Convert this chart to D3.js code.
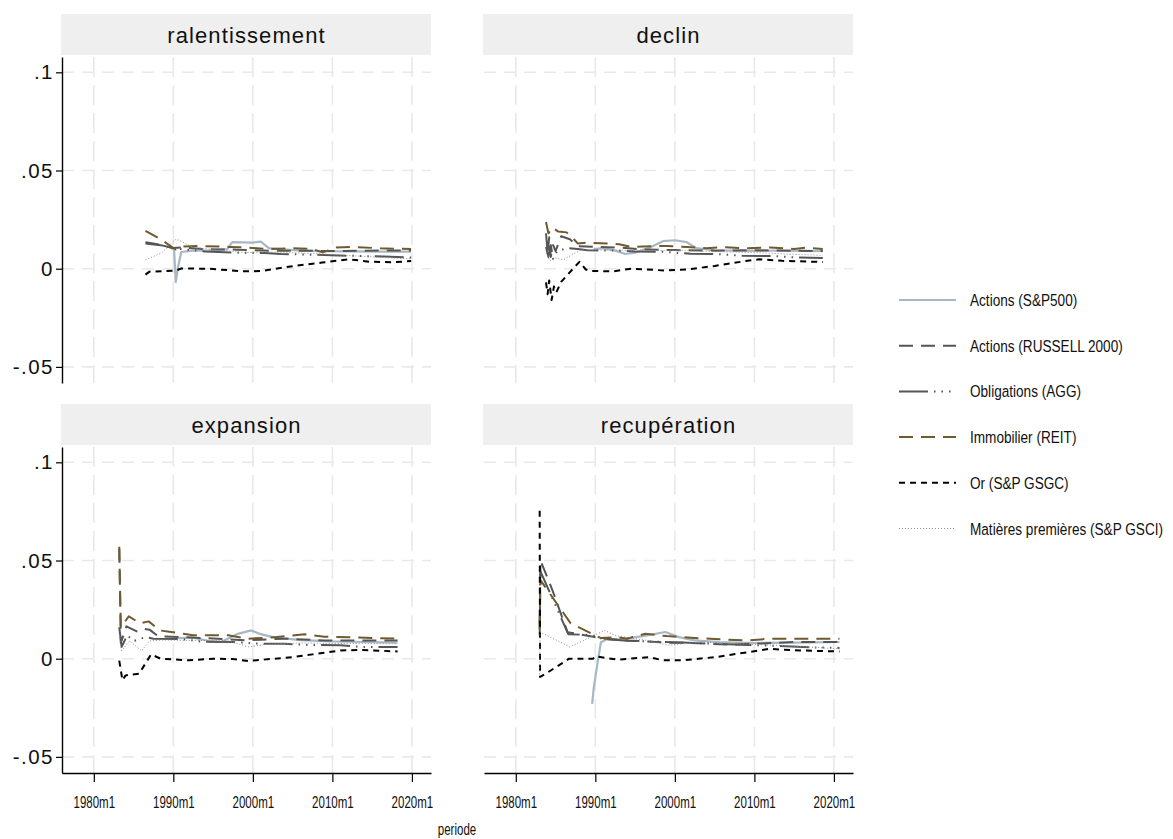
<!DOCTYPE html>
<html>
<head>
<meta charset="utf-8">
<script src="https://cdn.jsdelivr.net/npm/d3@7"></script>
<style>
  html, body { margin: 0; padding: 0; background: #ffffff; }
  text { font-family: "Liberation Sans", Arial, sans-serif; }
</style>
</head>
<body>
<svg id="chart" width="1173" height="839"></svg>
<script>
// Panels (business-cycle phases) and asset series
const regimes = ["ralentissement", "declin", "expansion", "recupération"];
const seriesNames = [
  "Actions (S&P500)",
  "Actions (RUSSELL 2000)",
  "Obligations (AGG)",
  "Immobilier (REIT)",
  "Or (S&P GSGC)",
  "Matières premières (S&P GSCI)"
];
const xTicks = [1980, 1990, 2000, 2010, 2020];
const xTickLabels = ["1980m1", "1990m1", "2000m1", "2010m1", "2020m1"];
const yTicks = [0.1, 0.05, 0, -0.05];
const yTickLabels = [".1", ".05", "0", "-.05"];

// Average monthly return per phase, [period (decimal year), value]
const ralentissement_sp500 = [[1989.6,0.011],[1990.1,0.0095],[1990.3,-0.0068],[1990.6,0.001],[1991.0,0.0085],[1992.5,0.0092],[1995.0,0.0093],[1996.8,0.0100],[1997.4,0.0135],[2000.0,0.0133],[2001.0,0.0138],[2002.0,0.0105],[2005.0,0.0095],[2008.0,0.0090],[2012.0,0.0088],[2016.0,0.0087],[2019.9,0.0087]];
const ralentissement_russell = [[1986.5,0.0135],[1988.0,0.0125],[1990.0,0.0105],[1991.0,0.0108],[1994.0,0.0100],[1998.0,0.0097],[2002.0,0.0092],[2006.0,0.0092],[2010.0,0.0090],[2014.0,0.0092],[2019.9,0.0093]];
const ralentissement_agg = [[1986.5,0.0128],[1988.4,0.012],[1990.3,0.0102],[1994.0,0.0088],[1998.0,0.0082],[2001.5,0.0080],[2003.5,0.0075],[2009.0,0.0070],[2012.0,0.0066],[2016.5,0.0062],[2019.9,0.0057]];
const ralentissement_reit = [[1986.5,0.0193],[1988.4,0.015],[1990.3,0.0098],[1991.0,0.0113],[1993.0,0.0116],[1997.0,0.0111],[1999.0,0.0108],[2002.0,0.0100],[2005.0,0.0104],[2007.5,0.0100],[2008.8,0.0083],[2010.5,0.0108],[2012.5,0.0111],[2016.0,0.0104],[2019.9,0.0100]];
const ralentissement_or = [[1986.5,-0.0030],[1987.0,-0.0015],[1990.3,-0.0010],[1991.0,0.0001],[1994.5,0.0000],[1998.6,-0.0013],[2001.1,-0.0012],[2005.3,0.0015],[2008.7,0.0031],[2012.1,0.0048],[2014.6,0.0036],[2017.6,0.0033],[2019.9,0.0039]];
const ralentissement_gsci = [[1986.5,0.0045],[1988.5,0.008],[1990.3,0.0150],[1991.0,0.0140],[1992.5,0.0108],[1996.5,0.0092],[1999.0,0.0082],[2002.5,0.0085],[2006.0,0.0080],[2010.0,0.0072],[2015.0,0.0060],[2019.9,0.0050]];

const declin_sp500 = [[1989.8,0.0100],[1991.0,0.0105],[1992.5,0.0092],[1993.8,0.0075],[1995.0,0.0082],[1997.0,0.0110],[1998.5,0.0140],[2000.0,0.0145],[2001.5,0.0135],[2002.7,0.0105],[2005.0,0.0094],[2009.0,0.0091],[2013.0,0.0092],[2018.6,0.0090]];
const declin_russell = [[1983.8,0.018],[1984.0,0.008],[1984.2,0.016],[1984.4,0.006],[1984.7,0.012],[1985.0,0.009],[1985.7,0.0165],[1986.8,0.015],[1987.8,0.0115],[1990.0,0.0111],[1993.0,0.0108],[1996.0,0.0098],[2000.0,0.0095],[2005.0,0.0092],[2010.0,0.0094],[2015.0,0.0091],[2018.6,0.0090]];
const declin_agg = [[1983.8,0.011],[1984.1,0.006],[1984.4,0.012],[1984.7,0.005],[1985.2,0.009],[1986.5,0.0105],[1987.8,0.0100],[1989.0,0.0094],[1993.0,0.0092],[1995.0,0.0088],[1998.5,0.0086],[2002.0,0.0076],[2005.5,0.0074],[2008.5,0.0066],[2012.5,0.0064],[2015.5,0.0057],[2018.6,0.0055]];
const declin_reit = [[1983.8,0.0238],[1984.1,0.018],[1984.6,0.021],[1985.3,0.019],[1986.4,0.0185],[1987.2,0.0155],[1987.8,0.0128],[1989.0,0.0133],[1993.0,0.0125],[1994.5,0.0111],[1996.0,0.0113],[1999.0,0.0116],[2001.5,0.0110],[2004.0,0.0104],[2006.0,0.0110],[2008.5,0.0104],[2012.0,0.0108],[2015.0,0.0100],[2016.5,0.0107],[2018.6,0.0100]];
const declin_or = [[1983.8,-0.007],[1984.0,-0.013],[1984.2,-0.006],[1984.5,-0.016],[1984.8,-0.009],[1985.1,-0.012],[1985.7,-0.0067],[1987.4,0.0009],[1988.0,0.0035],[1988.8,-0.0004],[1989.5,-0.0012],[1992.3,-0.0013],[1994.5,0.0000],[1998.7,-0.0009],[2001.6,-0.0004],[2005.0,0.0014],[2008.9,0.0039],[2010.6,0.0048],[2013.5,0.0040],[2018.6,0.0034]];
const declin_gsci = [[1983.8,0.0080],[1984.3,0.004],[1985.0,0.0055],[1986.0,0.0045],[1987.2,0.0075],[1988.2,0.0095],[1991.0,0.0095],[1995.0,0.0094],[2000.0,0.0093],[2005.0,0.0087],[2010.0,0.0082],[2014.0,0.0075],[2018.6,0.0068]];

const expansion_sp500 = [[1990.5,0.0105],[1992.5,0.0107],[1994.5,0.0090],[1996.0,0.0085],[1998.0,0.0125],[1999.8,0.0144],[2001.0,0.0125],[2002.5,0.0110],[2006.0,0.0095],[2010.0,0.0088],[2014.0,0.0085],[2018.2,0.0082]];
const expansion_russell = [[1983.2,0.0560],[1983.4,0.0080],[1984.1,0.0165],[1985.4,0.0139],[1986.2,0.0152],[1987.0,0.0148],[1988.1,0.0114],[1991.0,0.0110],[1995.0,0.0103],[1999.0,0.0094],[2004.0,0.0102],[2009.0,0.0093],[2018.2,0.0093]];
const expansion_agg = [[1983.2,0.0160],[1983.5,0.0060],[1984.2,0.0120],[1985.0,0.0090],[1986.5,0.0110],[1987.5,0.0102],[1991.0,0.0100],[1993.5,0.0087],[1997.5,0.0085],[2000.5,0.0077],[2004.0,0.0076],[2007.0,0.0070],[2011.0,0.0068],[2014.0,0.0060],[2018.2,0.0059]];
const expansion_reit = [[1983.2,0.0570],[1983.4,0.0160],[1984.4,0.0216],[1985.8,0.0180],[1986.9,0.0190],[1988.3,0.0144],[1989.5,0.0137],[1992.5,0.0120],[1996.9,0.0119],[1999.4,0.0102],[2003.0,0.0110],[2006.5,0.0124],[2009.0,0.0112],[2013.0,0.0108],[2018.2,0.0102]];
const expansion_or = [[1983.2,-0.0010],[1983.4,-0.0060],[1983.6,-0.0110],[1984.0,-0.0085],[1985.7,-0.0076],[1987.2,0.0022],[1988.4,0.0000],[1992.0,-0.0008],[1995.0,0.0000],[1997.5,-0.0002],[1999.4,-0.0012],[2001.0,-0.0006],[2005.0,0.0008],[2007.5,0.0022],[2011.0,0.0042],[2013.5,0.0045],[2018.2,0.0037]];
const expansion_gsci = [[1983.2,0.0120],[1983.5,0.0040],[1984.5,0.0090],[1986.0,0.0040],[1987.0,0.0090],[1988.5,0.0095],[1993.0,0.0093],[1997.0,0.0090],[1999.4,0.0060],[2002.0,0.0075],[2006.0,0.0080],[2010.0,0.0078],[2014.0,0.0077],[2018.2,0.0076]];

const recuperation_sp500 = [[1989.6,-0.0230],[1989.8,-0.0150],[1990.2,-0.0040],[1990.7,0.0084],[1991.5,0.0100],[1993.0,0.0098],[1996.0,0.0115],[1998.8,0.0136],[2000.5,0.0110],[2002.5,0.0093],[2005.5,0.0085],[2010.0,0.0080],[2015.0,0.0082],[2020.7,0.0085]];
const recuperation_russell = [[1983.0,0.0180],[1983.1,0.0500],[1984.5,0.0360],[1986.5,0.0135],[1989.4,0.0114],[1990.7,0.0104],[1994.0,0.0093],[1999.0,0.0082],[2002.0,0.0080],[2007.0,0.0072],[2011.0,0.0078],[2015.0,0.0085],[2020.7,0.0085]];
const recuperation_agg = [[1983.0,0.0120],[1983.1,0.0445],[1986.6,0.0125],[1989.6,0.0120],[1991.0,0.0100],[1994.0,0.0092],[1998.0,0.0086],[2001.0,0.0082],[2005.0,0.0076],[2009.0,0.0070],[2013.0,0.0065],[2017.0,0.0058],[2020.7,0.0055]];
const recuperation_reit = [[1983.0,0.0150],[1983.1,0.0400],[1986.9,0.0180],[1989.4,0.0130],[1990.7,0.0105],[1992.8,0.0110],[1994.0,0.0102],[1996.3,0.0127],[1999.0,0.0115],[2002.0,0.0107],[2005.0,0.0100],[2009.0,0.0093],[2012.0,0.0102],[2020.7,0.0102]];
const recuperation_or = [[1983.0,0.0754],[1983.05,-0.0093],[1984.2,-0.0065],[1986.7,0.0000],[1989.7,0.0000],[1990.0,0.0012],[1992.8,-0.0005],[1996.7,0.0008],[1998.5,-0.0008],[2001.0,-0.0008],[2005.1,0.0008],[2009.3,0.0034],[2011.9,0.0050],[2015.7,0.0042],[2020.7,0.0037]];
const recuperation_gsci = [[1983.0,-0.0080],[1983.05,0.0136],[1986.8,0.0060],[1991.2,0.0144],[1992.5,0.0118],[1996.5,0.0093],[1999.2,0.0068],[2003.0,0.0085],[2008.0,0.0076],[2013.0,0.0068],[2017.0,0.0059],[2020.7,0.0050]];

const panelData = [
  [ralentissement_sp500, ralentissement_russell, ralentissement_agg, ralentissement_reit, ralentissement_or, ralentissement_gsci],
  [declin_sp500, declin_russell, declin_agg, declin_reit, declin_or, declin_gsci],
  [expansion_sp500, expansion_russell, expansion_agg, expansion_reit, expansion_or, expansion_gsci],
  [recuperation_sp500, recuperation_russell, recuperation_agg, recuperation_reit, recuperation_or, recuperation_gsci]
];

// Line styles per series
const styles = [
  { color: "#a8b7c6", width: 2.2, dash: null },
  { color: "#555555", width: 2, dash: "14,8" },
  { color: "#555555", width: 2, dash: "29,6,1.5,6,1.5,6,1.5,6" },
  { color: "#6e5a2c", width: 2, dash: "14,8" },
  { color: "#000000", width: 2, dash: "6,5" },
  { color: "#8c8c8c", width: 1, dash: "1,2" }
];

// horizontal squeeze applied to the condensed labels
const narrow = 0.72;

const svg = d3.select("#chart");
svg.append("rect").attr("width", 1173).attr("height", 839).attr("fill", "#ffffff");

const colX = [62, 484];
const rowY = [57, 447];
const panelW = 369, panelH = 326;

const x = d3.scaleLinear().domain([1976.0, 2022.4]).range([0, panelW]);
const y = d3.scaleLinear().domain([-0.0582, 0.1078]).range([panelH, 0]);

const line = d3.line().x(d => x(d[0])).y(d => y(d[1]));

regimes.forEach((name, i) => {
  const col = i % 2, row = Math.floor(i / 2);
  const g = svg.append("g").attr("transform", `translate(${colX[col]},${rowY[row]})`);

  // strip header
  g.append("rect").attr("x", -1).attr("y", -43).attr("width", panelW + 1).attr("height", 41)
    .attr("fill", "#efefef");
  g.append("text").attr("x", panelW / 2).attr("y", -22)
    .attr("text-anchor", "middle").attr("dominant-baseline", "central")
    .attr("font-size", 22).attr("letter-spacing", 1.1).attr("fill", "#111").text(name);

  // grid
  const grid = g.append("g");
  grid.selectAll("line.h").data(yTicks).join("line")
    .attr("x1", 0).attr("x2", panelW).attr("y1", d => y(d)).attr("y2", d => y(d))
    .attr("stroke", "#e9e9e9").attr("stroke-width", 1.6).attr("stroke-dasharray", "12,8");
  grid.selectAll("line.v").data(xTicks).join("line")
    .attr("y1", 0).attr("y2", panelH).attr("x1", d => x(d)).attr("x2", d => x(d))
    .attr("stroke", "#e9e9e9").attr("stroke-width", 1.6).attr("stroke-dasharray", "20,8");

  // series
  panelData[i].forEach((data, s) => {
    const st = styles[s];
    g.append("path").datum(data).attr("d", line)
      .attr("fill", "none").attr("stroke", st.color).attr("stroke-width", st.width)
      .attr("stroke-dasharray", st.dash).attr("stroke-linejoin", "round");
  });

  // y axis on the left column
  if (col === 0) {
    const ya = g.append("g").call(d3.axisLeft(y).tickValues(yTicks)
      .tickFormat((d, k) => yTickLabels[k]).tickSize(6).tickSizeOuter(0));
    ya.select(".domain").attr("stroke", "#000").attr("stroke-width", 1.4);
    ya.selectAll(".tick line").attr("stroke", "#000").attr("stroke-width", 1.2);
    ya.selectAll(".tick text").attr("font-size", 20.5)
      .attr("letter-spacing", 1.5).attr("fill", "#111").attr("x", -8)
      .attr("font-family", "Liberation Sans, Arial, sans-serif");
  }
  // x axis on the bottom row
  if (row === 1) {
    const xa = g.append("g").attr("transform", `translate(0,${panelH})`)
      .call(d3.axisBottom(x).tickValues(xTicks).tickFormat((d, k) => xTickLabels[k])
        .tickSize(9).tickSizeOuter(0));
    xa.select(".domain").attr("stroke", "#000").attr("stroke-width", 1.4);
    xa.selectAll(".tick line").attr("stroke", "#000").attr("stroke-width", 1.2);
    xa.selectAll(".tick text").attr("font-size", 16)
      .attr("font-family", "Liberation Sans, Arial, sans-serif")
      .attr("fill", "#111").attr("y", 24).attr("transform", `scale(${narrow},1)`);
  }
});

// x axis title
svg.append("g").attr("transform", "translate(457,835)")
  .append("text").attr("text-anchor", "middle").attr("font-size", 16)
  .attr("transform", `scale(${narrow},1)`).attr("fill", "#111").text("periode");

// legend
const legend = svg.append("g").attr("transform", "translate(899,300)");
seriesNames.forEach((nm, s) => {
  const st = styles[s];
  const ly = s * 45.7;
  legend.append("line").attr("x1", 0).attr("x2", 57).attr("y1", ly).attr("y2", ly)
    .attr("stroke", st.color).attr("stroke-width", st.width).attr("stroke-dasharray", st.dash);
  legend.append("g").attr("transform", `translate(71,${ly})`)
    .append("text").attr("dominant-baseline", "central").attr("font-size", 17)
    .attr("transform", "scale(0.8,1)").attr("fill", "#111").text(nm);
});
</script>
</body>
</html>
